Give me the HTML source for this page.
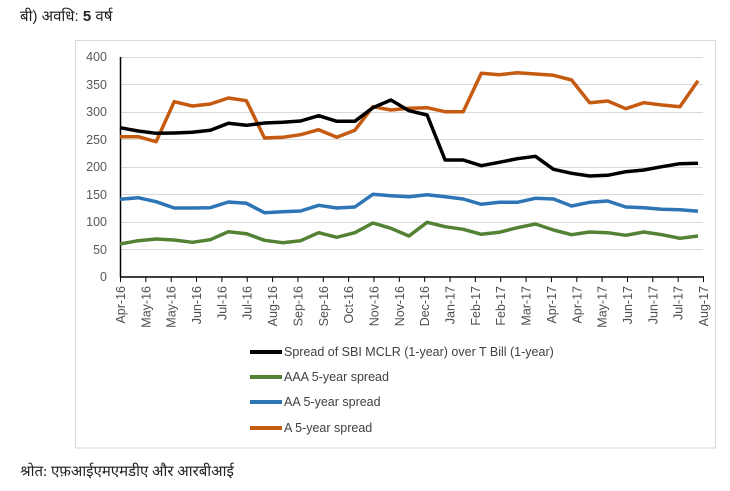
<!DOCTYPE html>
<html><head><meta charset="utf-8"><style>
body{margin:0;background:#fff;width:730px;height:491px;overflow:hidden}
</style></head><body>
<svg width="730" height="491" xmlns="http://www.w3.org/2000/svg" style="position:absolute;left:0;top:0">
<text x="20" y="21" font-family="Liberation Sans, Noto Sans CJK SC, sans-serif" font-size="15" fill="#222">बी) अवधि: <tspan font-weight="bold">5</tspan> वर्ष</text>
<rect x="75.5" y="40.5" width="640" height="407.5" fill="none" stroke="#d9d9d9" stroke-width="1"/>
<g stroke="#d9d9d9" stroke-width="1">
<line x1="120" y1="57.5" x2="703" y2="57.5"/><line x1="120" y1="84.5" x2="703" y2="84.5"/>
<line x1="120" y1="112.5" x2="703" y2="112.5"/><line x1="120" y1="139.5" x2="703" y2="139.5"/>
<line x1="120" y1="167.5" x2="703" y2="167.5"/><line x1="120" y1="194.5" x2="703" y2="194.5"/>
<line x1="120" y1="222.5" x2="703" y2="222.5"/><line x1="120" y1="249.5" x2="703" y2="249.5"/>
</g>
<g font-family="Liberation Sans, sans-serif" font-size="12.5" fill="#595959" text-anchor="end">
<text x="107" y="61">400</text><text x="107" y="89">350</text><text x="107" y="116">300</text>
<text x="107" y="144">250</text><text x="107" y="171">200</text><text x="107" y="199">150</text>
<text x="107" y="226">100</text><text x="107" y="254">50</text><text x="107" y="281">0</text>
</g>
<line x1="120.5" y1="57" x2="120.5" y2="277" stroke="#000" stroke-width="1.5"/>
<line x1="120" y1="277" x2="704" y2="277" stroke="#000" stroke-width="1.5"/>
<g id="ticks" stroke="#000" stroke-width="1"></g>
<g id="xl" font-family="Liberation Sans, sans-serif" font-size="12.5" fill="#505050"></g>
<g fill="none" stroke-width="3.5" stroke-linejoin="round">
<polyline id="pg" stroke="#548235"/>
<polyline id="pb" stroke="#2e75b6"/>
<polyline id="po" stroke="#c55a11"/>
<polyline id="pk" stroke="#000"/>
</g>
<g stroke-width="4">
<line x1="250" y1="352" x2="282" y2="352" stroke="#000"/>
<line x1="250" y1="377" x2="282" y2="377" stroke="#548235"/>
<line x1="250" y1="402" x2="282" y2="402" stroke="#2e75b6"/>
<line x1="250" y1="428" x2="282" y2="428" stroke="#c55a11"/>
</g>
<g font-family="Liberation Sans, sans-serif" font-size="12.5" fill="#404040">
<text x="284" y="356">Spread of SBI MCLR (1-year) over T Bill (1-year)</text>
<text x="284" y="381">AAA 5-year spread</text>
<text x="284" y="406">AA 5-year spread</text>
<text x="284" y="432">A 5-year spread</text>
</g>
<text x="20" y="476" font-family="Liberation Serif, Noto Serif CJK SC, serif" font-size="15" fill="#222">श्रोत: एफ़आईएमएमडीए और आरबीआई</text>
</svg>
<script>
var ns="http://www.w3.org/2000/svg";
var labs=["Apr-16","May-16","May-16","Jun-16","Jul-16","Jul-16","Aug-16","Sep-16","Sep-16","Oct-16","Nov-16","Nov-16","Dec-16","Jan-17","Feb-17","Feb-17","Mar-17","Apr-17","Apr-17","May-17","Jun-17","Jun-17","Jul-17","Aug-17"];
var t=document.getElementById("ticks"),xl=document.getElementById("xl");
for(var i=0;i<24;i++){var x=120.5+i*583/23;
var l=document.createElementNS(ns,"line");l.setAttribute("x1",x);l.setAttribute("x2",x);l.setAttribute("y1",277);l.setAttribute("y2",282);t.appendChild(l);
var tx=document.createElementNS(ns,"text");tx.setAttribute("transform","translate("+(x+4.5)+",286) rotate(-90)");tx.setAttribute("text-anchor","end");tx.textContent=labs[i];xl.appendChild(tx);}
var D={
pk:[127.7,131,133.3,133,132.3,130.3,123.3,125.3,123,122.3,121,115.7,121.3,121.3,107.7,100,110.7,115,160,160,165.7,162.3,158.7,156.3,169.3,173.3,176,175.3,171.7,170,166.7,163.7,163.3],
po:[136.7,136.7,141.7,101.7,106,104,98,100.7,138,137.3,134.7,129.7,137.3,130.3,106.7,110,108.3,107.7,111.7,111.7,73.3,74.7,72.7,74,75.3,80,102.7,101,108.7,102.7,105,106.7,80.7],
pb:[199.3,197.7,201.7,208,208,207.7,202,203.3,212.7,211.7,211,205.3,208,207,194.3,195.7,196.7,194.7,196.7,199,204.3,202.3,202.3,198.3,199,206,202.3,201,207,207.7,209.3,209.7,211.3],
pg:[244,240.7,239,240,242.3,239.7,231.7,233.7,240.3,242.7,240.7,232.7,237.3,232.7,223,228.3,236,222.3,226.7,229.3,234.3,232.3,227.7,224,230,234.7,232,232.7,235.3,232,234.7,238.3,236]};
for(var k in D){var p=D[k].map(function(y,i){return (120+i*578/32).toFixed(1)+","+y}).join(" ");document.getElementById(k).setAttribute("points",p);}
</script>
</body></html>
